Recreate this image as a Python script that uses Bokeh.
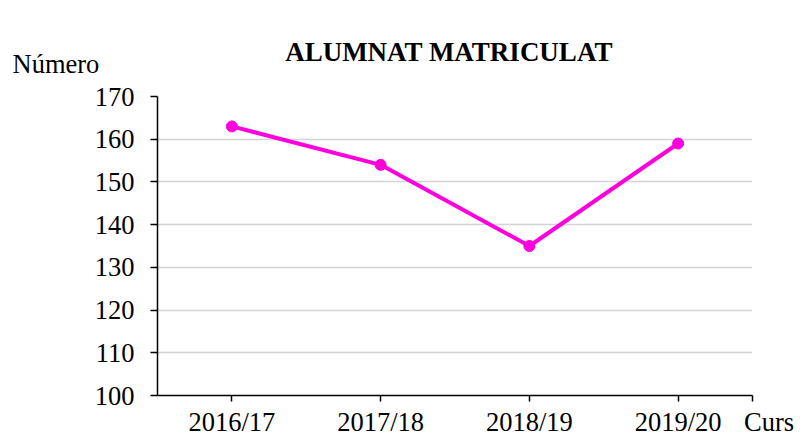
from bokeh.plotting import figure
from bokeh.models import Range1d, FixedTicker, ColumnDataSource, Label
from bokeh.embed import file_html
from bokeh.resources import INLINE

categories = ["2016/17", "2017/18", "2018/19", "2019/20"]
values = [163, 154, 135, 159]
y_ticks = [100, 110, 120, 130, 140, 150, 160, 170]
grid_ticks = [110, 120, 130, 140, 150, 160]
title_text = "ALUMNAT MATRICULAT"
y_title = "Número"
x_title = "Curs"

FONT = "Liberation Serif"
FS = "26.5px"
COLOR = "#FF00DD"
W, H = 812, 439
NBSP = "\u00a0"

xpos = [i + 0.5 for i in range(len(categories))]
src = ColumnDataSource(dict(x=xpos, y=values, cat=categories))

p = figure(width=W, height=H, output_backend="svg", toolbar_location=None,
           x_range=Range1d(0, len(categories)), y_range=Range1d(100, 170),
           min_border_left=157, min_border_right=60, min_border_top=96, min_border_bottom=43)
p.outline_line_color = None
p.background_fill_color = "white"
p.border_fill_color = "white"

p.line("x", "y", source=src, line_color=COLOR, line_width=4)
p.scatter("x", "y", source=src, size=11, fill_color=COLOR, line_color=COLOR)

# y axis
ya = p.yaxis[0]
ya.ticker = FixedTicker(ticks=y_ticks)
ya.axis_line_color = "black"
ya.axis_line_width = 1.5
ya.major_tick_line_color = "black"
ya.major_tick_line_width = 1.5
ya.major_tick_in = 0
ya.major_tick_out = 7
ya.minor_tick_line_color = None
ya.major_label_text_font = FONT
ya.major_label_text_font_size = FS
ya.major_label_text_color = "black"
ya.major_label_standoff = 16

# x axis (category labels + "Curs" at the axis end)
xa = p.xaxis[0]
xa.ticker = FixedTicker(ticks=xpos + [len(categories)])
xa.major_label_overrides = {**{x: c for x, c in zip(xpos, categories)},
                            len(categories): NBSP * 5 + x_title}
xa.axis_line_color = "black"
xa.axis_line_width = 1.5
xa.major_tick_line_color = "black"
xa.major_tick_line_width = 1.5
xa.major_tick_in = 0
xa.major_tick_out = 6
xa.minor_tick_line_color = None
xa.major_label_text_font = FONT
xa.major_label_text_font_size = FS
xa.major_label_text_color = "black"
xa.major_label_standoff = 5

p.xgrid.grid_line_color = None
p.ygrid.ticker = FixedTicker(ticks=grid_ticks)
p.ygrid.grid_line_color = "#d4d4d4"
p.ygrid.grid_line_width = 1.5

# texts above the frame (placed in the "above" side panel, not clipped)
p.add_layout(Label(x=-145, y=33, x_units="screen", y_units="screen", text=y_title,
                   text_align="left", text_baseline="alphabetic",
                   text_font=FONT, text_font_size=FS, text_color="black"), "above")
p.add_layout(Label(x=291.5, y=15, x_units="screen", y_units="screen", text=title_text,
                   text_align="center", text_baseline="alphabetic",
                   text_font=FONT, text_font_size="27px", text_font_style="bold",
                   text_color="black"), "above")

open("out.html", "w").write(file_html(p, INLINE))
